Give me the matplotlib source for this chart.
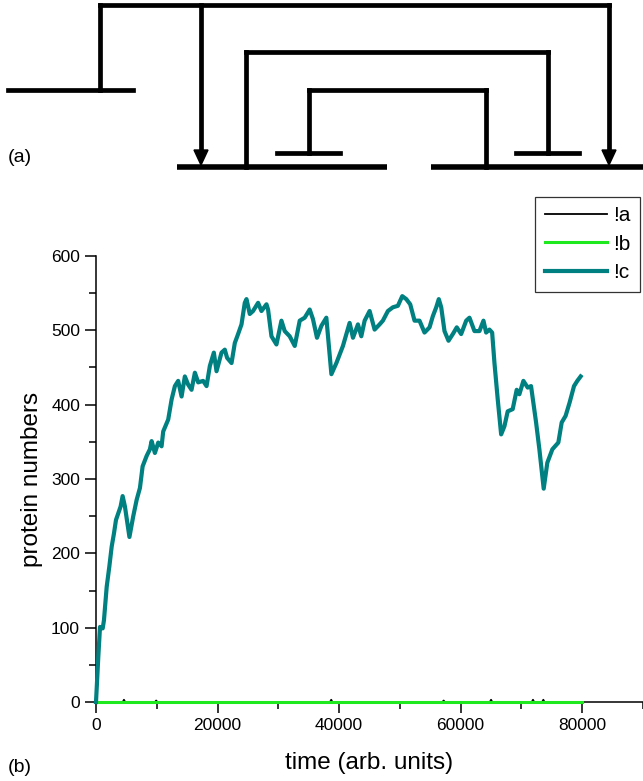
"""Two-panel figure: (a) regulatory network schematic, (b) protein numbers vs time."""

import matplotlib

matplotlib.use("Agg")
import matplotlib.pyplot as plt
from matplotlib.patches import Polygon
from matplotlib.ticker import MultipleLocator

plt.rcParams["font.family"] = ["Liberation Sans", "DejaVu Sans"]

# ---- panel (a): schematic, in pixel coordinates of the 643x781 canvas ----
wire_segments = [
    ((8, 90), (133, 90)),
    ((100, 90), (100, 5)),
    ((100, 5), (609, 5)),
    ((201, 5), (201, 152)),
    ((609, 5), (609, 152)),
    ((246, 167), (246, 52)),
    ((246, 52), (548, 52)),
    ((548, 52), (548, 153)),
    ((516, 153), (579, 153)),
    ((486, 167), (486, 90)),
    ((486, 90), (309, 90)),
    ((309, 90), (309, 153)),
    ((277, 153), (340, 153)),
]
gene_segments = [((177, 167), (387, 167)), ((431, 167), (643, 167))]
arrow_tips = [(201, 165), (609, 165)]

# ---- panel (b): time series ----
a_time = [0, 4400, 4600, 4800, 9700, 9900, 10100, 38500, 38700, 38900,
          57000, 57200, 57400, 64800, 65000, 65200, 71700, 71900, 72100,
          73400, 73600, 73800, 80000]
a_vals = [0, 0, 3, 0, 0, 2, 0, 0, 3, 0,
          0, 2, 0, 0, 3, 0, 0, 3, 0,
          0, 3, 0, 0]

b_time = [0, 80000]
b_vals = [0, 0]

c_time = [0, 380, 660, 1100, 1310, 1760, 2190, 2580, 2960, 3290,
          3670, 4050, 4380, 4760, 5500, 6130, 6690, 7230, 7670, 8330,
          8870, 9150, 9690, 10240, 10790, 11060, 11880, 12440, 12980, 13520,
          14080, 14620, 15160, 15720, 16270, 16810, 17630, 18190, 18730, 19390,
          19830, 20650, 21190, 21570, 22300, 22840, 23380, 23940, 24480, 24760,
          25300, 25840, 26670, 27220, 28050, 28310, 28870, 29690, 30510, 31050,
          31870, 32700, 33520, 34340, 35160, 35700, 36360, 37080, 37900, 38730,
          39550, 40630, 41730, 42280, 43100, 43650, 44200, 45020, 45840, 46660,
          47200, 48030, 48850, 49670, 50390, 51050, 51700, 52410, 53230, 54050,
          54880, 55420, 55980, 56400, 56800, 57340, 58000, 58710, 59360, 60080,
          60910, 61450, 62270, 63090, 63750, 64190, 64730, 65180, 65560, 66100,
          66660, 67200, 67740, 68560, 69220, 69660, 70320, 71030, 71580, 72410,
          72950, 73660, 74260, 75090, 76070, 76620, 77270, 77930, 78650, 79190,
          79740]
c_vals = [0, 61, 101, 99, 110, 155, 182, 209, 227, 245,
          254, 263, 277, 263, 222, 250, 272, 288, 317, 331,
          340, 351, 335, 349, 344, 364, 380, 407, 425, 432,
          411, 438, 427, 420, 443, 430, 432, 425, 452, 470,
          445, 470, 474, 463, 456, 483, 495, 508, 537, 542,
          522, 526, 537, 526, 535, 528, 492, 481, 513, 499,
          492, 479, 513, 517, 528, 515, 490, 506, 517, 441,
          456, 479, 510, 490, 508, 492, 513, 526, 501, 508,
          513, 526, 531, 533, 546, 542, 535, 513, 513, 497,
          504, 519, 531, 542, 531, 499, 486, 495, 504, 495,
          513, 517, 499, 499, 513, 497, 501, 497, 456, 407,
          360, 371, 391, 394, 420, 414, 432, 423, 425, 376,
          340, 287, 322, 340, 349, 376, 385, 403, 425, 432,
          438]

series_labels = ["!a", "!b", "!c"]

W, H = 643, 781
fig = plt.figure(figsize=(W / 100, H / 100), dpi=100)

# schematic overlay spanning the whole canvas
ax_a = fig.add_axes([0, 0, 1, 1])
ax_a.set_xlim(0, W)
ax_a.set_ylim(H, 0)
ax_a.axis("off")
for (x0, y0), (x1, y1) in wire_segments:
    ax_a.plot([x0, x1], [y0, y1], color="black", lw=3.4, solid_capstyle="projecting")
for (x0, y0), (x1, y1) in gene_segments:
    ax_a.plot([x0, x1], [y0, y1], color="black", lw=4.0, solid_capstyle="butt")
for x, y in arrow_tips:
    ax_a.add_patch(Polygon([(x - 7, y - 15), (x + 7, y - 15), (x, y)],
                           closed=True, color="black"))
ax_a.text(8, 158, "(a)", fontsize=14, va="center", ha="left")
ax_a.text(8, 767, "(b)", fontsize=14, va="center", ha="left")

# data axes
ax = fig.add_axes([96 / W, 1 - 702 / H, 1 - 96 / W, (702 - 256) / H])
ax.plot(a_time, a_vals, color="black", lw=1.3, label=series_labels[0],
        zorder=3, clip_on=False)
ax.plot(b_time, b_vals, color="#1ee81e", lw=2.2, label=series_labels[1],
        zorder=3.1, clip_on=False)
ax.plot(c_time, c_vals, color="#008080", lw=3.0, label=series_labels[2],
        zorder=3.2, clip_on=False)

ax.set_xlim(0, 90000)
ax.set_ylim(0, 600)
ax.spines["top"].set_visible(False)
ax.spines["right"].set_visible(False)
for side in ("left", "bottom"):
    ax.spines[side].set_linewidth(1.1)
ax.xaxis.set_major_locator(MultipleLocator(20000))
ax.xaxis.set_minor_locator(MultipleLocator(10000))
ax.yaxis.set_major_locator(MultipleLocator(100))
ax.yaxis.set_minor_locator(MultipleLocator(50))
ax.set_xticks([0, 20000, 40000, 60000, 80000])
ax.tick_params(which="major", direction="out", length=8, width=1.1, labelsize=12.5)
ax.tick_params(which="minor", direction="out", length=5, width=1.1)
ax.set_xlabel("time (arb. units)", fontsize=17.5, labelpad=14)
ax.set_ylabel("protein numbers", fontsize=17.5, labelpad=6)

leg = fig.legend(loc="upper right", bbox_to_anchor=(640 / W, 1 - 197 / H),
                 fontsize=15, frameon=True, fancybox=False, edgecolor="black",
                 handlelength=3.0, labelspacing=0.45, borderpad=0.45,
                 handletextpad=0.3, borderaxespad=0)
leg.get_frame().set_linewidth(0.9)

fig.savefig("out.png", dpi=100)
